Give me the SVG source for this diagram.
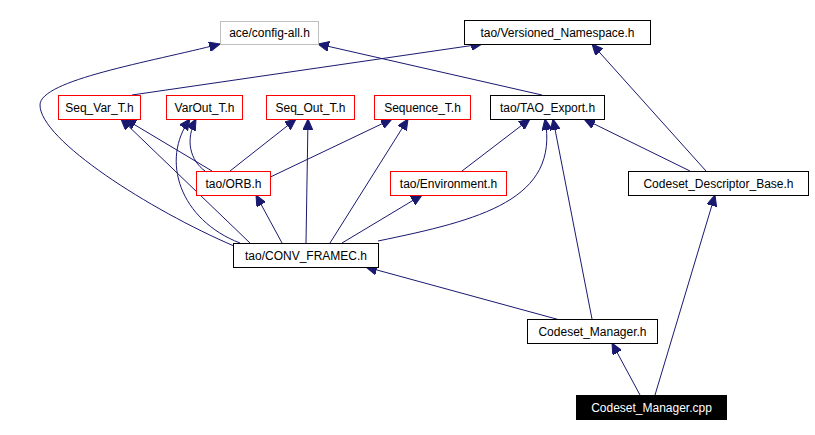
<svg xmlns="http://www.w3.org/2000/svg" width="815" height="435" viewBox="0 0 815 435">
<style>
.n rect{fill:#fff;stroke:#000;stroke-width:1}
.r rect{stroke:#f00}
.g rect{stroke:#bfbfbf}
text{font-family:"Liberation Sans",Arial,sans-serif;font-size:12px;text-anchor:middle}
#edges path{fill:none;stroke:#191970;stroke-width:1;marker-end:url(#a)}
</style>
<defs><marker id="a" markerWidth="12" markerHeight="10" refX="11" refY="5" orient="auto" markerUnits="userSpaceOnUse"><path d="M0,0 L11,5 L0,10 Z" fill="#191970" stroke="#191970"/></marker></defs>
<rect width="815" height="435" fill="#fff"/>
<g id="edges">
<path d="M234,246 C150,210 40,140 40,105 C40,80 150,62 220,44"/>
<path d="M542,95 L318,44"/>
<path d="M132,95 L482,44"/>
<path d="M706,171 L592,44"/>
<path d="M212,171 L125,119"/>
<path d="M205,171 C190,160 185,140 196,119"/>
<path d="M230,171 L296,119"/>
<path d="M262,181 L392,119"/>
<path d="M250,243 L121,119"/>
<path d="M240,243 C180,220 160,160 190,119"/>
<path d="M306,243 L308,119"/>
<path d="M330,243 L408,119"/>
<path d="M282,243 L256,195"/>
<path d="M342,243 L422,195"/>
<path d="M378,241 C480,220 560,200 545,119"/>
<path d="M462,171 L530,119"/>
<path d="M690,171 L584,119"/>
<path d="M592,319 L553,119"/>
<path d="M560,320 L366,267"/>
<path d="M640,395 L612,343"/>
<path d="M655,395 L715,195"/>
</g>
<g id="config" class="n g"><rect x="220.5" y="21.5" width="98" height="23"/><text x="269.5" y="37">ace/config-all.h</text></g>
<g id="versioned" class="n"><rect x="464.5" y="20.5" width="186" height="24"/><text x="557.5" y="37">tao/Versioned_Namespace.h</text></g>
<g id="seqvar" class="n r"><rect x="58.5" y="95.5" width="82" height="24"/><text x="99.5" y="112">Seq_Var_T.h</text></g>
<g id="varout" class="n r"><rect x="166.5" y="95.5" width="76" height="24"/><text x="204.5" y="112">VarOut_T.h</text></g>
<g id="seqout" class="n r"><rect x="266.5" y="95.5" width="88" height="24"/><text x="310.5" y="112">Seq_Out_T.h</text></g>
<g id="sequence" class="n r"><rect x="374.5" y="95.5" width="96" height="24"/><text x="422.5" y="112">Sequence_T.h</text></g>
<g id="taoexport" class="n"><rect x="490.5" y="95.5" width="114" height="24"/><text x="547.5" y="112">tao/TAO_Export.h</text></g>
<g id="orb" class="n r"><rect x="196.5" y="171.5" width="74" height="24"/><text x="233.5" y="188">tao/ORB.h</text></g>
<g id="env" class="n r"><rect x="390.5" y="171.5" width="116" height="24"/><text x="448.5" y="188">tao/Environment.h</text></g>
<g id="cdb" class="n"><rect x="628.5" y="171.5" width="180" height="24"/><text x="718.5" y="188">Codeset_Descriptor_Base.h</text></g>
<g id="conv" class="n"><rect x="233.5" y="243.5" width="145" height="24"/><text x="306" y="260">tao/CONV_FRAMEC.h</text></g>
<g id="cm" class="n"><rect x="527.5" y="319.5" width="130" height="24"/><text x="592.5" y="336">Codeset_Manager.h</text></g>
<g id="cpp"><rect x="576" y="395" width="151" height="25" fill="#000"/><text x="651.5" y="412" fill="#fff">Codeset_Manager.cpp</text></g>
</svg>
